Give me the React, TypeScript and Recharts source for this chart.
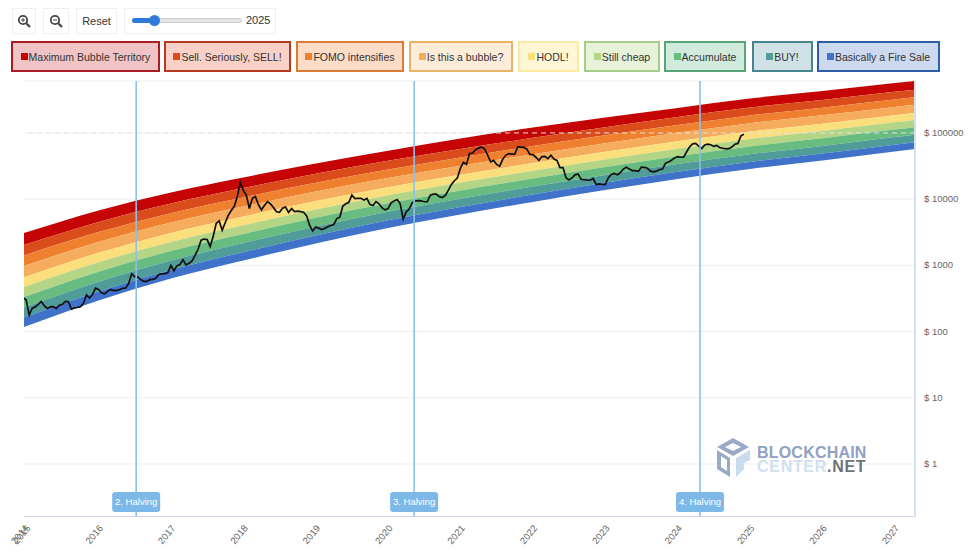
import React from "react";
import { ComposedChart, Area, Line, XAxis, YAxis, CartesianGrid, ReferenceLine } from "recharts";

// rainbow band names + colours, top to bottom
const bandNames = ["Maximum Bubble Territory", "Sell. Seriously, SELL!", "FOMO intensifies", "Is this a bubble?", "HODL!", "Still cheap", "Accumulate", "BUY!", "Basically a Fire Sale"];
const bandColors = ["#c50505", "#db4c1d", "#ef8030", "#f5ac5c", "#fbdf7c", "#b5d586", "#68bc80", "#4f9c98", "#3f72c8"];

// band edges in USD, read at these dates
const bandYears = [2014.97, 2016, 2017, 2018, 2019, 2020, 2021, 2022, 2023, 2024, 2025, 2026, 2027, 2027.28];
const edge0 = [3083, 6745, 12620, 21280, 34590, 53900, 82600, 121000, 171000, 238800, 331900, 430500, 568900, 609500];
const edge1 = [2029, 4520, 8610, 14730, 24240, 37970, 57130, 84380, 122100, 174000, 242700, 315600, 419400, 450400];
const edge2 = [1408, 3181, 6152, 10640, 17740, 28110, 42690, 63350, 92300, 132000, 184300, 241000, 320700, 345500];
const edge3 = [981, 2255, 4431, 7736, 13050, 20940, 32050, 47770, 69930, 100500, 140800, 184700, 247200, 266400];
const edge4 = [663, 1546, 3096, 5485, 9369, 15190, 23410, 35150, 51860, 74710, 104900, 138100, 185700, 200600];
const edge5 = [471, 1115, 2262, 4041, 6997, 11450, 17810, 26860, 39870, 57700, 81020, 107100, 144600, 156500];
const edge6 = [334, 801, 1652, 2985, 5223, 8646, 13530, 20550, 30630, 44530, 62610, 83200, 112500, 122000];
const edge7 = [232, 568, 1188, 2174, 3847, 6450, 10160, 15520, 23250, 33920, 47800, 63740, 86680, 94160];
const edge8 = [163, 403, 855, 1582, 2832, 4804, 7638, 11720, 17680, 25850, 36510, 48800, 66660, 72590];
const edge9 = [117, 294, 634, 1186, 2143, 3673, 5875, 9078, 13740, 20180, 28580, 38370, 52480, 57280];
const edges = [edge0, edge1, edge2, edge3, edge4, edge5, edge6, edge7, edge8, edge9];

// BTC price, two readings per month
const price2015 = [300, 178, 226, 236, 258, 284, 246, 224, 236, 238, 224, 250, 258, 286, 282, 218, 228, 231, 238, 266, 360, 322, 364, 452];
const price2016 = [432, 385, 372, 405, 432, 415, 418, 430, 450, 455, 535, 745, 675, 665, 610, 572, 572, 608, 615, 640, 730, 745, 750, 780];
const price2017 = [1000, 830, 985, 1030, 1220, 1010, 1075, 1170, 1420, 1750, 2400, 2500, 2450, 1920, 2720, 4300, 4700, 3400, 4400, 5700, 6750, 7800, 10900, 17800];
const price2018 = [13500, 11500, 7200, 10300, 11000, 8300, 6900, 8000, 9200, 8500, 7500, 6450, 6350, 7300, 7600, 6300, 7200, 6500, 6600, 6500, 6350, 5600, 4000, 3300];
const price2019 = [3800, 3650, 3480, 3620, 3820, 4000, 4150, 5100, 5350, 7900, 8500, 8950, 11500, 10200, 10300, 10300, 9700, 10300, 8300, 8000, 9200, 8500, 7400, 6900];
const price2020 = [7200, 8800, 9400, 9900, 8600, 5000, 6400, 7100, 8800, 9400, 9500, 9450, 9150, 9200, 11500, 11900, 11900, 10900, 10600, 11400, 13700, 16700, 19000, 21000];
const price2021 = [29500, 36000, 33500, 49000, 49500, 56000, 59000, 61500, 57500, 46500, 36500, 38500, 33500, 31500, 40000, 46000, 48800, 48000, 48000, 61500, 61000, 60500, 57000, 47500];
const price2022 = [47000, 43000, 38500, 44000, 44400, 41000, 46000, 40500, 38500, 30000, 30000, 21000, 19500, 21000, 23300, 24000, 20000, 19800, 19300, 19300, 20500, 16600, 17000, 16700];
const price2023 = [16600, 21000, 23700, 24500, 23400, 25000, 28500, 30300, 28500, 27000, 27000, 26300, 30500, 30200, 29300, 26500, 25900, 26500, 28000, 28500, 35000, 36500, 38700, 42000];
const price2024 = [44000, 43000, 43000, 52000, 62000, 68500, 69500, 63500, 58000, 66000, 67800, 66500, 62700, 65000, 60000, 58800, 57500, 58000, 61500, 67500, 69500, 90500, 95500];
const priceYears = [price2015, price2016, price2017, price2018, price2019, price2020, price2021, price2022, price2023, price2024];

const yearTicks = [2014.97, 2015, 2016, 2017, 2018, 2019, 2020, 2021, 2022, 2023, 2024, 2025, 2026, 2027];
const priceTicks = [1, 10, 100, 1000, 10000, 100000];
const halvingDates = [2016.52, 2020.36, 2024.31];
const halvingNames = ["2. Halving", "3. Halving", "4. Halving"];

const bandRows = bandYears.map((year, i) => {
  const row: any = { year };
  edges.forEach((e, k) => { row["e" + k] = e[i]; });
  return row;
});
const priceRows = [
  { year: 2014.97, price: 320 },
  ...priceYears.flatMap((list, y) => list.map((price, i) => ({ year: 2015 + y + i / 24, price }))),
];

// layout of the legend buttons
const legendLefts = [11, 164, 296, 409, 518, 584, 664, 752, 817];
const legendWidths = [149, 127, 108, 104, 61, 76, 82, 61, 123];
const legendFills = ["#f0c3c4", "#f8d0c5", "#fbdcc6", "#fcecd8", "#fef6d4", "#e8f2d8", "#d0eadb", "#d0e2e6", "#cdd9ee"];
const legendBorders = ["#a81c24", "#b53a22", "#dd7b34", "#e8b467", "#fbeaa2", "#a6cc8c", "#5aa47a", "#45858e", "#2f5ea8"];

const FONT = "'Liberation Sans', Arial, sans-serif";

function YearTick({ x, y, payload }: any) {
  const tx = x + 5;
  const ty = y + 4;
  return (
    <text x={tx} y={ty} transform={`rotate(-50 ${tx} ${ty})`} textAnchor="end" fontSize={9.5} fontFamily={FONT} fill="#666">
      {Math.floor(payload.value)}
    </text>
  );
}

function PriceTick({ x, y, payload }: any) {
  return (
    <text x={x + 1} y={y + 3} fontSize={9.5} fontFamily={FONT} fill="#666">
      {"$ " + payload.value}
    </text>
  );
}

function HalvingTag({ viewBox, text }: any) {
  const cx = viewBox.x;
  return (
    <g>
      <rect x={cx - 24} y={492} width={48} height={20} rx={3} fill="#7cb8e8" />
      <text x={cx} y={505} textAnchor="middle" fontSize={9.5} fontFamily={FONT} fill="#fff">{text}</text>
    </g>
  );
}

function ToolButton({ left, width, children }: any) {
  return (
    <div style={{ position: "absolute", left, top: 8, width, height: 26, boxSizing: "border-box", border: "1px solid #f0f0f0", background: "#fff", display: "flex", alignItems: "center", justifyContent: "center", fontFamily: FONT, fontSize: 11, color: "#333" }}>
      {children}
    </div>
  );
}

function ZoomIcon({ plus }: { plus: boolean }) {
  return (
    <svg width="14" height="14" viewBox="0 0 14 14">
      <circle cx="6" cy="6" r="4.2" fill="none" stroke="#444" strokeWidth="1.8" />
      <line x1="9.2" y1="9.2" x2="13" y2="13" stroke="#444" strokeWidth="2.2" />
      <line x1="4" y1="6" x2="8" y2="6" stroke="#444" strokeWidth="1" />
      {plus && <line x1="6" y1="4" x2="6" y2="8" stroke="#444" strokeWidth="1" />}
    </svg>
  );
}

function Watermark() {
  return (
    <svg width="160" height="50" style={{ position: "absolute", left: 712, top: 434 }} viewBox="712 434 160 50">
      <path d="M733 438 L749 447 L733 456 L717 447 Z" fill="#9aaac6" />
      <path d="M733 443 L741 447 L733 451 L725 447 Z" fill="#fff" />
      <path d="M717 450 L730 458 L730 477 L717 469 Z" fill="#9aaac6" />
      <path d="M721 456 L727 460 L727 471 L721 467 Z" fill="#fff" />
      <path d="M736 458 L750 450 L750 460 L744 463 L744 469 L736 477 Z" fill="#c8dcee" />
      <text x="757" y="458" fontFamily={FONT} fontWeight="bold" fontSize="16" letterSpacing="0.2" fill="#8fa2c2">BLOCKCHAIN</text>
      <text x="757" y="472" fontFamily={FONT} fontWeight="bold" fontSize="16" letterSpacing="0.7">
        <tspan fill="#cfe0ef">CENTER</tspan>
        <tspan fill="#6f7378">.NET</tspan>
      </text>
    </svg>
  );
}

export default function App() {
  return (
    <div style={{ position: "absolute", left: 0, top: 0, width: 970, height: 555, background: "#fff", overflow: "hidden" }}>
      <ToolButton left={12} width={24}><ZoomIcon plus /></ToolButton>
      <ToolButton left={43} width={26}><ZoomIcon plus={false} /></ToolButton>
      <ToolButton left={76} width={41}>Reset</ToolButton>
      <ToolButton left={124} width={152}>{null}</ToolButton>
      <div style={{ position: "absolute", left: 132, top: 18, width: 110, height: 5, borderRadius: 3, background: "#e4e4e4", border: "1px solid #ccc", boxSizing: "border-box" }} />
      <div style={{ position: "absolute", left: 132, top: 18, width: 23, height: 5, borderRadius: 3, background: "#2f7bd9" }} />
      <div style={{ position: "absolute", left: 149, top: 15, width: 11, height: 11, borderRadius: 6, background: "#2f7bd9" }} />
      <div style={{ position: "absolute", left: 246, top: 14, fontFamily: FONT, fontSize: 11, color: "#333" }}>2025</div>

      {bandNames.map((name, i) => (
        <div key={name} style={{ position: "absolute", left: legendLefts[i], top: 41, width: legendWidths[i], height: 31, boxSizing: "border-box", background: legendFills[i], border: `2px solid ${legendBorders[i]}`, display: "flex", alignItems: "center", justifyContent: "center", fontFamily: FONT, fontSize: 10.5, color: "#333", whiteSpace: "nowrap" }}>
          <span style={{ width: 7, height: 7, background: bandColors[i], marginRight: 1, flex: "none" }} />
          {name}
        </div>
      ))}

      <div style={{ position: "absolute", left: 0, top: 0 }}>
        <ComposedChart width={970} height={555} data={bandRows} margin={{ top: 81, right: 0, bottom: 0, left: 24 }}>
          <CartesianGrid horizontal vertical={false} stroke="#eeeeee" />
          <XAxis dataKey="year" type="number" domain={[2014.97, 2027.28]} allowDataOverflow ticks={yearTicks} interval={0} height={38.5} tick={<YearTick />} tickLine={false} axisLine={{ stroke: "#ccd6eb" }} />
          <YAxis orientation="right" scale="log" domain={[0.161, 609500]} allowDataOverflow ticks={priceTicks} interval={0} width={55} tick={<PriceTick />} tickLine={false} axisLine={{ stroke: "#d3dfea", strokeWidth: 2 }} />
          {bandNames.map((name, k) => (
            <Area key={name} dataKey={(r: any) => [r["e" + (k + 1)], r["e" + k]]} type="monotone" fill={bandColors[k]} fillOpacity={1} stroke="none" dot={false} activeDot={false} isAnimationActive={false} />
          ))}
          <ReferenceLine y={100000} stroke="#e2e2e2" strokeDasharray="5 4" />
          <Line data={priceRows} dataKey="price" type="linear" stroke="#111" strokeWidth={1.7} dot={false} activeDot={false} isAnimationActive={false} />
          {halvingDates.map((d, i) => (
            <ReferenceLine key={d} x={d} stroke="#8cc0ea" strokeWidth={1.6} label={<HalvingTag text={halvingNames[i]} />} />
          ))}
        </ComposedChart>
      </div>
      <Watermark />
    </div>
  );
}
